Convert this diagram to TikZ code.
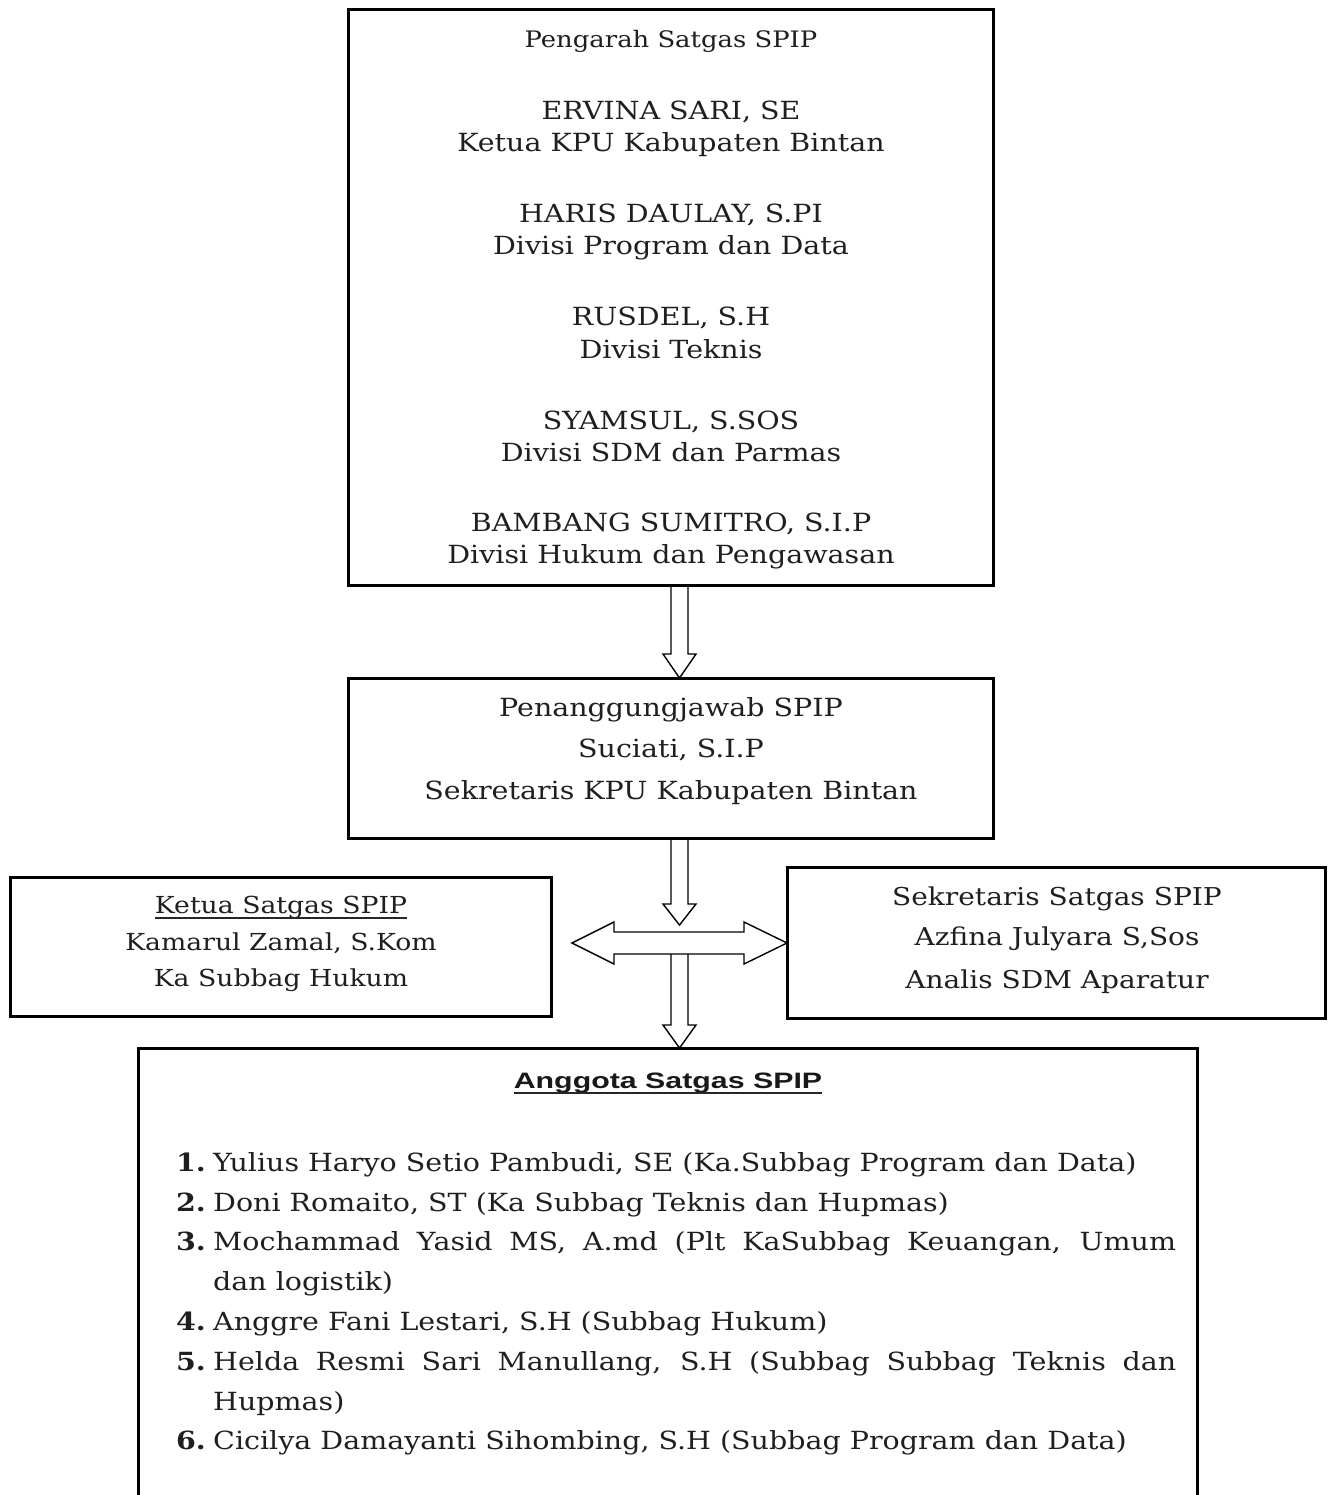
\documentclass[tikz,border=0pt]{standalone}
\usepackage{fontspec}
\setmainfont{DejaVu Serif}[FakeStretch=1.14]
\newfontfamily\headfont{Liberation Sans}[FakeStretch=1.36]
\usetikzlibrary{calc}
\begin{document}
\begin{tikzpicture}[x=1pt,y=-1pt,
  box/.style={draw=black, line width=3pt, inner sep=0pt, outer sep=0pt},
  blockarrow/.style={draw=black, line width=1.4pt, line join=miter},
  txt/.style={anchor=base, inner sep=0pt, text=black!88, font=\fontsize{25}{30}\selectfont},
  smalltxt/.style={txt, font=\fontsize{22.7}{28}\selectfont},
  lefttxt/.style={txt, font=\fontsize{23.4}{28}\selectfont},
  righttxt/.style={txt, font=\fontsize{24.6}{29}\selectfont},
  itemtxt/.style={anchor=base west, inner sep=0pt, text=black!88, font=\fontsize{25}{30}\selectfont},
  numtxt/.style={anchor=base east, inner sep=0pt, text=black!88, font=\fontsize{25}{30}\selectfont\bfseries},
  headtxt/.style={anchor=base, inner sep=0pt, text=black!90, font=\fontsize{22.3}{27}\headfont\bfseries},
  uline/.style={draw=black!85, line width=1.6pt}]
\useasboundingbox (0,0) rectangle (1333,1495);
\fill[white] (0,0) rectangle (1333,1495);
\clip (0,0) rectangle (1333,1495);

% boxes
\node[box, minimum width=645pt, minimum height=575pt] (top) at (670.5,297.5) {};
\node[box, minimum width=645pt, minimum height=160pt] (pj) at (670.5,758) {};
\node[box, minimum width=541pt, minimum height=139pt] (ketua) at (280.5,946.5) {};
\node[box, minimum width=538pt, minimum height=151pt] (sek) at (1056,942.5) {};
\node[box, minimum width=1059pt, minimum height=500pt] (mem) at (667.5,1298) {};

% top box text
\node[smalltxt] (t0) at (671,48) {Pengarah Satgas SPIP};
\node[txt] (t1a) at (671,120) {ERVINA SARI, SE};
\node[txt] (t1b) at (671,152) {Ketua KPU Kabupaten Bintan};
\node[txt] (t2a) at (671,223) {HARIS DAULAY, S.PI};
\node[txt] (t2b) at (671,255) {Divisi Program dan Data};
\node[txt] (t3a) at (671,326) {RUSDEL, S.H};
\node[txt] (t3b) at (671,358) {Divisi Teknis};
\node[txt] (t4a) at (671,429) {SYAMSUL, S.SOS};
\node[txt] (t4b) at (671,461) {Divisi SDM dan Parmas};
\node[txt] (t5a) at (671,531) {BAMBANG SUMITRO, S.I.P};
\node[txt] (t5b) at (671,563) {Divisi Hukum dan Pengawasan};

% penanggungjawab text
\node[txt] (p1) at (671,716) {Penanggungjawab SPIP};
\node[txt] (p2) at (671,757) {Suciati, S.I.P};
\node[txt] (p3) at (671,799) {Sekretaris KPU Kabupaten Bintan};

% ketua text
\node[lefttxt] (k1) at (281,913) {Ketua Satgas SPIP};
\draw[uline, line width=1.2pt] ($(k1.base west)+(0,5)$) -- ($(k1.base east)+(0,5)$);
\node[lefttxt] (k2) at (281,950) {Kamarul Zamal, S.Kom};
\node[lefttxt] (k3) at (281,986) {Ka Subbag Hukum};

% sekretaris text
\node[righttxt] (s1) at (1057,905) {Sekretaris Satgas SPIP};
\node[righttxt] (s2) at (1057,945) {Azfina Julyara S,Sos};
\node[righttxt] (s3) at (1057,988) {Analis SDM Aparatur};

% anggota
\node[headtxt] (h) at (668,1088) {Anggota Satgas SPIP};
\draw[uline] ($(h.base west)+(0,5)$) -- ($(h.base east)+(0,5)$);

\node[numtxt] (n1) at (206,1171) {1.};
\node[itemtxt] (i1) at (213,1171) {Yulius Haryo Setio Pambudi, SE (Ka.Subbag Program dan Data)};
\node[numtxt] (n2) at (206,1211) {2.};
\node[itemtxt] (i2) at (213,1211) {Doni Romaito, ST (Ka Subbag Teknis dan Hupmas)};
\node[numtxt] (n3) at (206,1250) {3.};
\node[itemtxt] (i3a) at (213,1250) {\makebox[963pt][s]{Mochammad Yasid MS, A.md (Plt KaSubbag Keuangan, Umum}};
\node[itemtxt] (i3b) at (213,1290) {dan logistik)};
\node[numtxt] (n4) at (206,1330) {4.};
\node[itemtxt] (i4) at (213,1330) {Anggre Fani Lestari, S.H (Subbag Hukum)};
\node[numtxt] (n5) at (206,1370) {5.};
\node[itemtxt] (i5a) at (213,1370) {\makebox[963pt][s]{Helda Resmi Sari Manullang, S.H (Subbag Subbag Teknis dan}};
\node[itemtxt] (i5b) at (213,1410) {Hupmas)};
\node[numtxt] (n6) at (206,1449) {6.};
\node[itemtxt] (i6) at (213,1449) {Cicilya Damayanti Sihombing, S.H (Subbag Program dan Data)};

% arrows
\coordinate (hub) at ($(pj.south)+(9,105)$);
% arrow top -> pj
\draw[blockarrow] let \p1=($(top.south)+(9,0)$), \p2=($(pj.north)+(9,0)$) in
  (\x1-8.5pt,\y1) -- (\x1-8.5pt,\y2+24pt) -- (\x1-16.5pt,\y2+24pt) -- (\x2,\y2)
  -- (\x1+16.5pt,\y2+24pt) -- (\x1+8.5pt,\y2+24pt) -- (\x1+8.5pt,\y1);
% arrow pj -> hub
\draw[blockarrow] let \p1=($(pj.south)+(9,0)$), \p2=($(hub)+(0,-18)$) in
  (\x1-8.5pt,\y1) -- (\x1-8.5pt,\y2+21pt) -- (\x1-16.5pt,\y2+21pt) -- (\x2,\y2)
  -- (\x1+16.5pt,\y2+21pt) -- (\x1+8.5pt,\y2+21pt) -- (\x1+8.5pt,\y1);
% double arrow ketua <-> sek
\coordinate (lt) at ($(ketua.east)+(21,-3.5)$);
\draw[blockarrow] let \p1=(lt), \p2=(sek.west) in
  (\p1) -- (\x1+42pt,\y1+21pt) -- (\x1+42pt,\y1+11pt) -- (\x2-43pt,\y1+11pt)
  -- (\x2-43pt,\y1+21pt) -- (\x2,\y1) -- (\x2-43pt,\y1-21pt) -- (\x2-43pt,\y1-11pt)
  -- (\x1+42pt,\y1-11pt) -- (\x1+42pt,\y1-21pt) -- cycle;
% arrow hub -> mem
\draw[blockarrow] let \p1=($(hub)+(0,11)$), \p2=(mem.north) in
  (\x1-8.5pt,\y1) -- (\x1-8.5pt,\y2+23pt) -- (\x1-16.5pt,\y2+23pt) -- (\x1,\y2)
  -- (\x1+16.5pt,\y2+23pt) -- (\x1+8.5pt,\y2+23pt) -- (\x1+8.5pt,\y1);
\end{tikzpicture}
\end{document}
